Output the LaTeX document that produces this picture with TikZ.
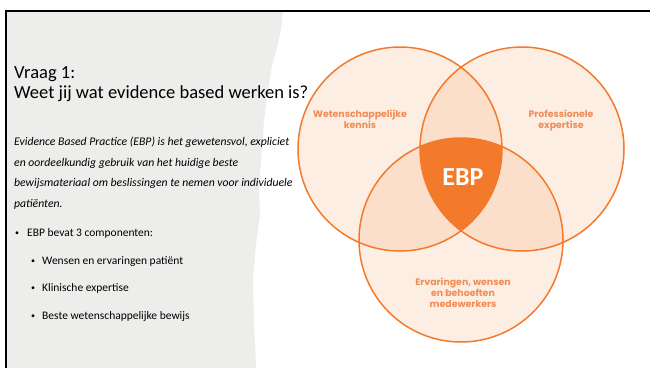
\documentclass[tikz,border=0pt]{standalone}
\usepackage{fontspec}
\setmainfont{Carlito}
\newfontfamily\labelfont{Poppins}
\usepackage{xcolor}
\usepackage{tikz}
\definecolor{ebporange}{RGB}{242,122,42}
\definecolor{labelorange}{RGB}{240,140,84}
\definecolor{slidegray}{RGB}{237,237,236}

\begin{document}
\begin{tikzpicture}[x=1pt,y=-1pt,every node/.style={inner sep=0pt},
  setcircle/.style={fill=ebporange,fill opacity=.13},
  setlabel/.style={text=labelorange,font=\labelfont\bfseries\fontsize{9.4}{11}\selectfont,align=center},
  bodyline/.style={anchor=base west,font=\itshape\fontsize{11.7}{12}\selectfont},
  bulletline/.style={anchor=base west,font=\fontsize{11.5}{12}\selectfont},
  bulletdot/.style={anchor=base west,font=\fontsize{8}{10}\selectfont}]
\useasboundingbox (0,0) rectangle (650,368);
% torn grey panel behind the text
\fill[slidegray] (7,12) -- (283,12) -- (281,30) -- (277,48) -- (272,66) -- (268,90)
  -- (264,120) -- (262,150) -- (259,185) -- (260,215) -- (256,245) -- (253,280)
  -- (254,320) -- (256,368) -- (7,368) -- cycle;
\draw[line width=2pt] (650,11) -- (6,11) -- (6,368);

% the three sets
\coordinate (wet) at (400,149);
\coordinate (pro) at (522,149);
\coordinate (erv) at (461,240);
\foreach \c in {wet,pro,erv}
  \fill[setcircle] (\c) circle (102pt);
\begin{scope}
  \clip (wet) circle (102pt);
  \clip (pro) circle (102pt);
  \fill[ebporange] (erv) circle (102pt);
\end{scope}
\foreach \c in {wet,pro,erv}
  \draw[ebporange,line width=1.5pt] (\c) circle (102pt);

\node[setlabel] (wetlabel) at (360,119) {Wetenschappelijke\\kennis};
\node[setlabel] (prolabel) at (561,120) {Professionele\\expertise};
\node[setlabel] (ervlabel) at (463,293) {Ervaringen, wensen\\en behoeften\\medewerkers};
\node[text=white,font=\bfseries\fontsize{26}{30}\selectfont] (ebp) at (463,177) {EBP};

% title and text
\node[anchor=base west,font=\fontsize{18.5}{22}\selectfont] (vraag) at (14,78) {Vraag 1:};
\node[anchor=base west,font=\fontsize{18.5}{22}\selectfont] (weet) at (14,98) {Weet jij wat evidence based werken is?};
\node[bodyline] (def1) at (14,145) {Evidence Based Practice (EBP) is het gewetensvol, expliciet};
\node[bodyline] (def2) at (14,166) {en oordeelkundig gebruik van het huidige beste};
\node[bodyline] (def3) at (14,186) {bewijsmateriaal om beslissingen te nemen voor individuele};
\node[bodyline] (def4) at (14,207) {patiënten.};
\node[bulletdot] (dot1) at (15,235) {\textbullet};
\node[bulletline] (comp) at (27,236) {EBP bevat 3 componenten:};
\node[bulletdot] (dot2) at (31,263) {\textbullet};
\node[bulletline] (wens) at (42,264) {Wensen en ervaringen patiënt};
\node[bulletdot] (dot3) at (31,290) {\textbullet};
\node[bulletline] (klin) at (42,291) {Klinische expertise};
\node[bulletdot] (dot4) at (31,318) {\textbullet};
\node[bulletline] (best) at (42,319) {Beste wetenschappelijke bewijs};
\end{tikzpicture}
\end{document}
